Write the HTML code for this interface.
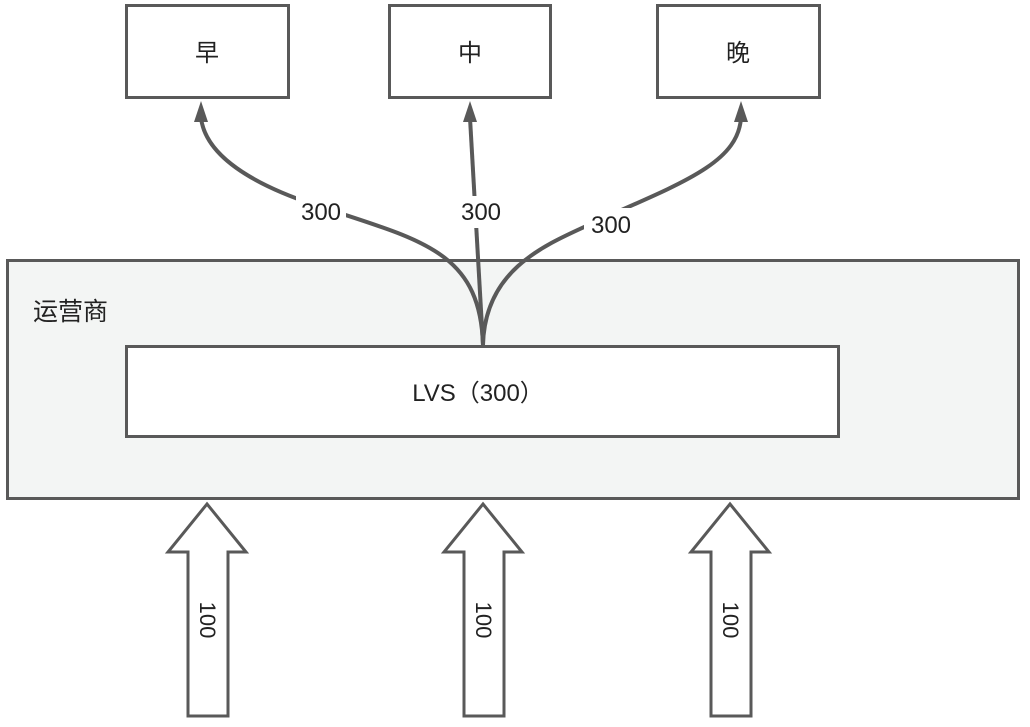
<!DOCTYPE html>
<html><head><meta charset="utf-8"><style>
html,body{margin:0;padding:0;background:#fff;width:1030px;height:727px;overflow:hidden}
svg text{font-family:"Liberation Sans","Noto Sans CJK SC",sans-serif;fill:#222}
</style></head><body>
<svg width="1030" height="727" viewBox="0 0 1030 727" xmlns="http://www.w3.org/2000/svg">
<g stroke="#595959" stroke-width="3">
<rect x="7.5" y="260.5" width="1011" height="238" fill="#f3f5f4"/>
<rect x="126.5" y="346.5" width="712" height="90" fill="#fff"/>
<rect x="126.5" y="5.5" width="162" height="92" fill="#fff"/>
<rect x="389.5" y="5.5" width="161" height="92" fill="#fff"/>
<rect x="657.5" y="5.5" width="162" height="92" fill="#fff"/>
</g>
<g stroke="#595959" stroke-width="4" fill="none">
<path d="M483 345 C480 250 420 240 315 205 C240 180 205 150 201 118"/>
<path d="M483 345 L470 118"/>
<path d="M483 345 C485 260 560 240 610 215 C690 180 738 160 741 118"/>
</g>
<g fill="#595959">
<polygon points="201,101 194,122 208,122"/>
<polygon points="470,101 463,122 477,122"/>
<polygon points="741,101 734,122 748,122"/>
</g>
<g fill="#fff">
<rect x="296" y="196" width="50" height="30"/>
<rect x="455" y="196" width="52" height="32"/>
<rect x="584" y="208" width="52" height="32"/>
</g>
<text x="321" y="220" font-size="24" text-anchor="middle">300</text>
<text x="481" y="220" font-size="24" text-anchor="middle">300</text>
<text x="611" y="233" font-size="24" text-anchor="middle">300</text>
<text x="207" y="61" font-size="24" text-anchor="middle">早</text>
<text x="470" y="61" font-size="24" text-anchor="middle">中</text>
<text x="738" y="61" font-size="24" text-anchor="middle">晚</text>
<text x="33" y="320" font-size="25">运营商</text>
<text x="478" y="401" font-size="24" text-anchor="middle">LVS（300）</text>
<g stroke="#595959" stroke-width="3" fill="#fff">
<polygon points="207,504 246,552 228,552 228,716 188,716 188,552 168,552"/>
<polygon points="483,504 522,552 504,552 504,716 464,716 464,552 444,552"/>
<polygon points="730,504 769,552 751,552 751,716 711,716 711,552 691,552"/>
</g>
<text transform="translate(200,620) rotate(90)" font-size="22" text-anchor="middle">100</text>
<text transform="translate(476,620) rotate(90)" font-size="22" text-anchor="middle">100</text>
<text transform="translate(723,620) rotate(90)" font-size="22" text-anchor="middle">100</text>
</svg>
</body></html>
